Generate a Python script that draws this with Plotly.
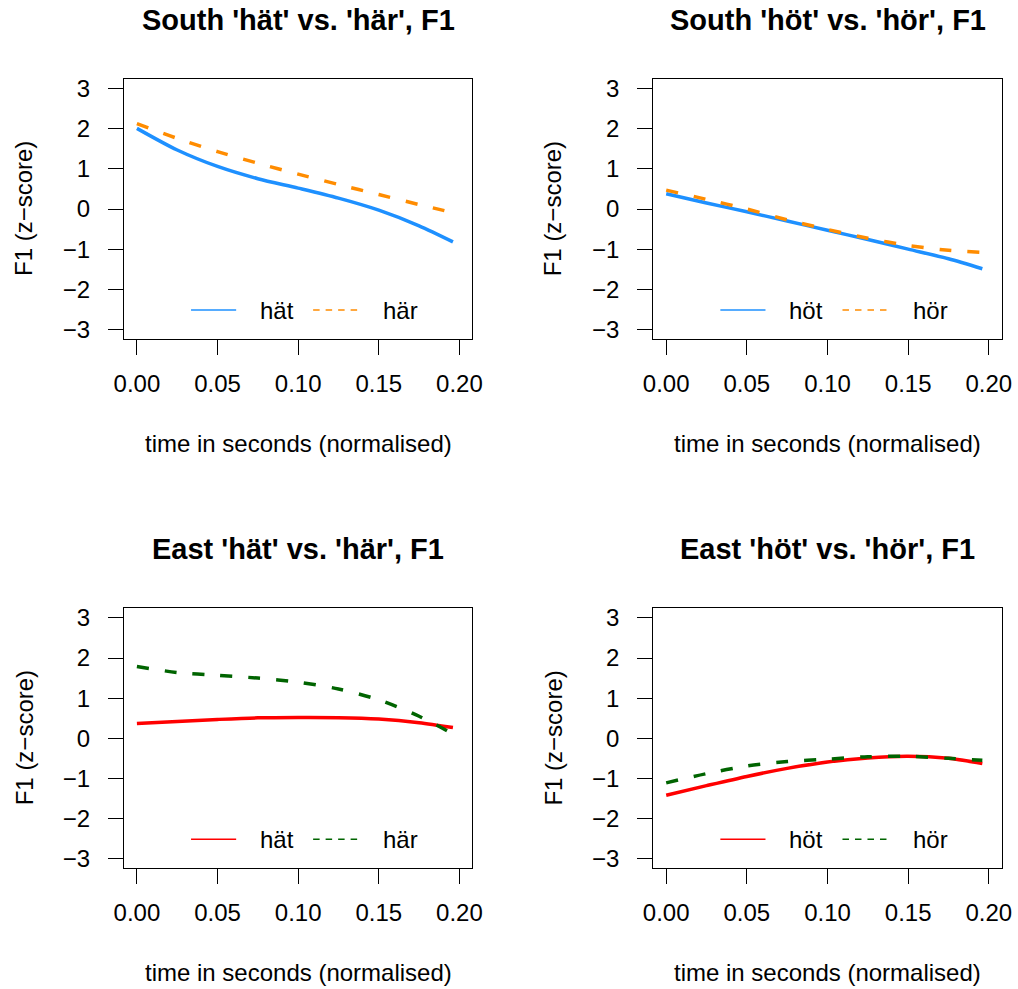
import plotly.graph_objects as go

# ---------------- data ----------------
time_s = [0.000, 0.025, 0.050, 0.075, 0.100, 0.125, 0.150, 0.175, 0.196]

south_hat = [2.01, 1.47, 1.06, 0.755, 0.52, 0.27, -0.03, -0.42, -0.82]
south_har = [2.13, 1.76, 1.43, 1.14, 0.87, 0.61, 0.36, 0.11, -0.09]
south_hot = [0.38, 0.15, -0.07, -0.30, -0.53, -0.76, -1.00, -1.24, -1.49]
south_hor = [0.47, 0.24, 0.00, -0.27, -0.51, -0.73, -0.91, -1.03, -1.08]

east_hat = [0.37, 0.42, 0.47, 0.51, 0.52, 0.515, 0.48, 0.39, 0.27]
east_har = [1.79, 1.64, 1.57, 1.50, 1.40, 1.23, 0.96, 0.55, 0.11]
east_hot = [-1.42, -1.18, -0.95, -0.75, -0.59, -0.49, -0.45, -0.50, -0.63]
east_hor = [-1.11, -0.88, -0.69, -0.58, -0.52, -0.46, -0.45, -0.50, -0.55]

titles = ["South 'hät' vs. 'här', F1", "South 'höt' vs. 'hör', F1",
          "East 'hät' vs. 'här', F1", "East 'höt' vs. 'hör', F1"]
legend_labels = [("hät", "här"), ("höt", "hör"), ("hät", "här"), ("höt", "hör")]
x_ticks = [0.00, 0.05, 0.10, 0.15, 0.20]
x_ticktext = ["0.00", "0.05", "0.10", "0.15", "0.20"]
y_ticks = [-3, -2, -1, 0, 1, 2, 3]
y_ticktext = ["\u22123", "\u22122", "\u22121", "0", "1", "2", "3"]
x_title = "time in seconds (normalised)"
y_title = "F1 (z\u2212score)"

BLUE = "#1E90FF"
ORANGE = "#FF8C00"
RED = "#FF0000"
GREEN = "#006400"

panels = [
    (south_hat, south_har, BLUE, ORANGE),
    (south_hot, south_hor, BLUE, ORANGE),
    (east_hat, east_har, RED, GREEN),
    (east_hot, east_hor, RED, GREEN),
]

W, H = 1018, 989
# box pixel positions (left, right, top, bottom)
boxes = [
    (124.0, 472.3, 79.0, 339.0),
    (653.3, 1001.7, 79.0, 339.0),
    (124.0, 472.3, 608.3, 868.3),
    (653.3, 1001.7, 608.3, 868.3),
]

FONT = "Liberation Sans, Arial, Helvetica, sans-serif"
fig = go.Figure()
layout = dict(
    template="none",
    width=W, height=H, margin=dict(l=0, r=0, t=0, b=0, pad=0, autoexpand=False),
    paper_bgcolor="white", plot_bgcolor="white",
    showlegend=False, font=dict(family=FONT, size=24, color="black"),
)
annotations = []
shapes = []

for i, ((s1, s2, c1, c2), (l, r, t, b)) in enumerate(zip(panels, boxes)):
    n = i + 1
    xa = "x" if n == 1 else f"x{n}"
    ya = "y" if n == 1 else f"y{n}"
    fig.add_trace(go.Scatter(x=time_s, y=s1, mode="lines", xaxis=xa, yaxis=ya,
                             line=dict(color=c1, width=3.5, shape="spline", smoothing=0.8),
                             hoverinfo="skip"))
    fig.add_trace(go.Scatter(x=time_s, y=s2, mode="lines", xaxis=xa, yaxis=ya,
                             line=dict(color=c2, width=3.5, shape="spline", smoothing=0.8,
                                       dash="12px,16px"),
                             hoverinfo="skip"))
    axis_common = dict(showgrid=False, zeroline=False, showline=True, mirror=True,
                       automargin=False,
                       linecolor="black", linewidth=1.3, ticks="outside", ticklen=15,
                       tickwidth=1.3, tickcolor="black",
                       tickfont=dict(family=FONT, size=24, color="black"))
    layout[f"xaxis{'' if n == 1 else n}"] = dict(
        axis_common, domain=[l / W, r / W], range=[-0.008, 0.208],
        tickvals=x_ticks, ticktext=x_ticktext, anchor=ya, ticklabelstandoff=8)
    layout[f"yaxis{'' if n == 1 else n}"] = dict(
        axis_common, domain=[1 - b / H, 1 - t / H], range=[-3.24, 3.24],
        tickvals=y_ticks, ticktext=y_ticktext, anchor=xa, ticklabelstandoff=13)

    cx = (l + r) / 2
    # main title
    annotations.append(dict(text=f"<b>{titles[i]}</b>", xref="paper", yref="paper",
                            x=cx / W, y=1 - (t - 59) / H, xanchor="center", yanchor="middle",
                            showarrow=False, font=dict(family=FONT, size=29, color="black")))
    # x title
    annotations.append(dict(text=x_title, xref="paper", yref="paper",
                            x=cx / W, y=1 - (b + 104) / H, xanchor="center", yanchor="middle",
                            showarrow=False, font=dict(family=FONT, size=24, color="black")))
    # y title
    annotations.append(dict(text=y_title, xref="paper", yref="paper", textangle=-90,
                            x=(l - 100) / W, y=1 - ((t + b) / 2) / H, xanchor="center",
                            yanchor="middle", showarrow=False,
                            font=dict(family=FONT, size=24, color="black")))
    # legend (inside box, no border)
    ly = 0.1115
    shapes.append(dict(type="line", xref=f"{xa} domain", yref=f"{ya} domain",
                       x0=0.1925, x1=0.322, y0=ly, y1=ly,
                       line=dict(color=c1, width=1.6)))
    shapes.append(dict(type="line", xref=f"{xa} domain", yref=f"{ya} domain",
                       x0=0.543, x1=0.672, y0=ly, y1=ly,
                       line=dict(color=c2, width=1.6, dash="6.5px,6px")))
    for xx, lab in zip([0.385, 0.7385], legend_labels[i]):
        annotations.append(dict(text=lab, xref=f"{xa} domain", yref=f"{ya} domain",
                                x=xx, y=ly, xanchor="left", yanchor="middle",
                                showarrow=False,
                                font=dict(family=FONT, size=24, color="black")))

layout["annotations"] = annotations
layout["shapes"] = shapes
fig.update_layout(**layout)
fig.write_html("out.html", config={"displayModeBar": False},
               post_script="document.body.style.margin='0';document.body.style.overflow='hidden';")
